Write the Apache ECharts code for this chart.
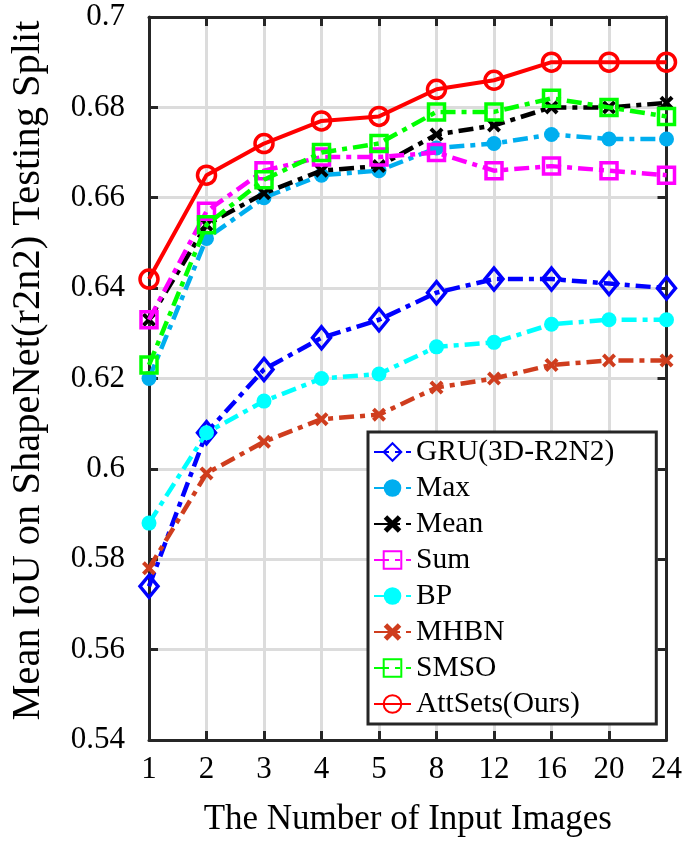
<!DOCTYPE html>
<html>
<head>
<meta charset="utf-8">
<script src="https://cdn.jsdelivr.net/npm/echarts@6/dist/echarts.min.js"></script>
<style>
html,body{margin:0;padding:0;background:#fff;}
#c{width:685px;height:845px;}
</style>
</head>
<body>
<div id="c"></div>
<script>
const categories = ['1','2','3','4','5','8','12','16','20','24'];
const gru     = [0.574,0.608,0.622,0.629,0.633,0.639,0.642,0.642,0.641,0.640];
const maxS    = [0.620,0.651,0.660,0.665,0.666,0.671,0.672,0.674,0.673,0.673];
const meanS   = [0.633,0.654,0.661,0.666,0.667,0.674,0.676,0.680,0.680,0.681];
const sumS    = [0.633,0.657,0.666,0.669,0.669,0.670,0.666,0.667,0.666,0.665];
const bp      = [0.588,0.608,0.615,0.620,0.621,0.627,0.628,0.632,0.633,0.633];
const mhbn    = [0.578,0.599,0.606,0.611,0.612,0.618,0.620,0.623,0.624,0.624];
const smso    = [0.623,0.654,0.664,0.670,0.672,0.679,0.679,0.682,0.680,0.678];
const attsets = [0.642,0.665,0.672,0.677,0.678,0.684,0.686,0.690,0.690,0.690];
const yMin = 0.54, yMax = 0.70, yStep = 0.02;

const FONT = "'Liberation Serif', 'Times New Roman', serif";
const AXC = '#262626';
const dashDot = [15, 6, 5, 6];
const xPath = 'path://M0,2 L2,0 L5,3 L8,0 L10,2 L7,5 L10,8 L8,10 L5,7 L2,10 L0,8 L3,5 Z';

function mk(name, data, color, symbol, size, hollow, dash, z) {
  return {
    name: name, type: 'line', data: data, z: z,
    symbol: symbol, symbolSize: size, clip: false,
    lineStyle: { color: color, width: dash ? 4.5 : 4, type: dash ? dashDot : 'solid' },
    itemStyle: hollow
      ? { color: 'rgba(255,255,255,0)', borderColor: color, borderWidth: 3.5 }
      : { color: color, borderColor: color, borderWidth: 0 },
    emphasis: { disabled: true },
    animation: false
  };
}

const chart = echarts.init(document.getElementById('c'), null, { renderer: 'canvas' });
chart.setOption({
  backgroundColor: '#fff',
  animation: false,
  grid: { left: 148, right: 15, top: 17, bottom: 105 },
  xAxis: [{
    type: 'category', data: categories, boundaryGap: false, position: 'bottom',
    name: 'The Number of Input Images', nameLocation: 'middle', nameGap: 62,
    nameTextStyle: { fontFamily: FONT, fontSize: 35, color: '#000' },
    axisLine: { lineStyle: { color: AXC, width: 3 } },
    axisTick: { inside: true, length: 9, lineStyle: { color: AXC, width: 3 }, alignWithLabel: true },
    axisLabel: { fontFamily: FONT, fontSize: 31, color: '#000', margin: 14 },
    splitLine: { show: true, lineStyle: { color: '#dcdcdc', width: 3 } }
  }, {
    type: 'category', data: categories, boundaryGap: false, position: 'top',
    axisLine: { lineStyle: { color: AXC, width: 3 } },
    axisTick: { inside: true, length: 9, lineStyle: { color: AXC, width: 3 } },
    axisLabel: { show: false }, splitLine: { show: false }
  }],
  yAxis: [{
    type: 'value', min: yMin, max: yMax, interval: yStep, position: 'left',
    name: 'Mean IoU on ShapeNet(r2n2) Testing Split', nameLocation: 'middle', nameGap: 100,
    nameTextStyle: { fontFamily: FONT, fontSize: 40.5, color: '#000', padding: [0, 0, 0, 16] },
    axisLine: { show: true, lineStyle: { color: AXC, width: 3 } },
    axisTick: { show: true, inside: true, length: 9, lineStyle: { color: AXC, width: 3 } },
    axisLabel: { fontFamily: FONT, fontSize: 31, color: '#000', margin: 24,
      formatter: v => String(+v.toFixed(2)) },
    splitLine: { show: true, lineStyle: { color: '#dcdcdc', width: 3 } }
  }, {
    type: 'value', min: yMin, max: yMax, interval: yStep, position: 'right',
    axisLine: { show: true, lineStyle: { color: AXC, width: 3 } },
    axisTick: { show: true, inside: true, length: 9, lineStyle: { color: AXC, width: 3 } },
    axisLabel: { show: false }, splitLine: { show: false }
  }],
  legend: {
    orient: 'vertical', left: 368, top: 432,
    itemWidth: 37, itemHeight: 22, itemGap: 6,
    padding: [5, 42, 5, 5],
    backgroundColor: '#fff', borderColor: AXC, borderWidth: 3, borderRadius: 0,
    textStyle: { fontFamily: FONT, fontSize: 29.5, color: '#000', lineHeight: 30 },
    data: ['GRU(3D-R2N2)','Max','Mean','Sum','BP','MHBN','SMSO','AttSets(Ours)']
  },
  series: [
    mk('GRU(3D-R2N2)', gru, '#0000ff', 'diamond', [18, 22], true, true, 2),
    mk('Max', maxS, '#00aeef', 'circle', 15, false, true, 3),
    mk('Mean', meanS, '#000000', xPath, 14, false, true, 4),
    mk('Sum', sumS, '#ff00ff', 'rect', 16, true, true, 5),
    mk('BP', bp, '#00ffff', 'circle', 15, false, true, 6),
    mk('MHBN', mhbn, '#cf3d1e', xPath, 14, false, true, 7),
    mk('SMSO', smso, '#00ff00', 'rect', 16, true, true, 8),
    mk('AttSets(Ours)', attsets, '#ff0000', 'circle', 18, true, false, 9)
  ]
});
</script>
</body>
</html>
